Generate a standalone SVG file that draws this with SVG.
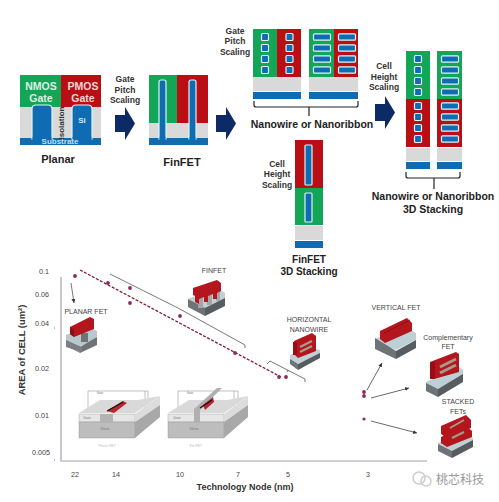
<svg xmlns="http://www.w3.org/2000/svg" width="499" height="502" viewBox="0 0 499 502">
<defs>
<style>
text{font-family:"Liberation Sans",Arial,sans-serif;fill:#222;text-anchor:middle}
.lab{font-size:8.5px;font-weight:700;fill:#333}
.big{font-size:10.5px;font-weight:700;fill:#222}
.gt{font-size:10.5px;font-weight:700;fill:#dfeee6}
.ax{font-size:7.2px;fill:#444}
.dev{font-size:7px;fill:#444}
.g{fill:#13a657}.r{fill:#b90f14}.y{fill:#d9d9d9}.s{fill:#0f6cb3}
.w{fill:#0f6cb3;stroke:#dff3f3;stroke-width:1.2}
.arrow{fill:#0c2a66}
.brace{fill:none;stroke:#222;stroke-width:1.2}
.line{fill:none;stroke:#555;stroke-width:.8}
.axis{fill:none;stroke:#a4a4a4;stroke-width:1.2}
.dot{fill:#8a2a5a}
.tiny{font-size:3px;fill:#777}
.soft{filter:url(#soft)}
</style>
<marker id="ah" markerWidth="6" markerHeight="6" refX="5" refY="2.5" orient="auto"><path d="M0 0L5 2.5L0 5z" fill="#333"/></marker>
<g id="sq"><rect x="-3.5" y="-3.5" width="7" height="7" rx="1" class="w"/></g>
<g id="wr"><rect x="-8.5" y="-3.2" width="17" height="6.4" rx="1" class="w"/></g>
<filter id="soft"><feGaussianBlur stdDeviation=".35"/></filter>
</defs>
<rect width="499" height="502" fill="#fff"/>
<g id="planar">
<rect x="20" y="75" width="41" height="33" class="g"/><rect x="61" y="75" width="40" height="33" class="r"/>
<rect x="20" y="107" width="81" height="31" class="y"/><rect x="20" y="138" width="81" height="7" class="s"/>
<path d="M32 139V109q0-4 4-4h12q4 0 4 4v30z" class="w"/><path d="M72 139V109q0-4 4-4h12q4 0 4 4v30z" class="w"/>
<rect x="32.500" y="137" width="19" height="3" class="s"/><rect x="72.500" y="137" width="19" height="3" class="s"/>
<text x="41" y="90" class="gt">NMOS</text><text x="41" y="102" class="gt">Gate</text>
<text x="83" y="90" class="gt" style="fill:#f3d6d6">PMOS</text><text x="83" y="102" class="gt" style="fill:#f3d6d6">Gate</text>
<text x="82" y="123" style="font-size:8px;font-weight:700;fill:#d8e8f4">Si</text>
<text x="60" y="144" style="font-size:8px;font-weight:700;fill:#bfe0f2">Substrate</text>
<text transform="translate(63.500 123) rotate(-90)" style="font-size:8px;font-weight:700;fill:#333">Isolation</text>
<text x="58" y="163" class="big" style="font-size:11px">Planar</text>
</g>
<g id="scale1"><text x="125" y="82" class="lab">Gate</text><text x="125" y="92.500" class="lab">Pitch</text><text x="125" y="103" class="lab">Scaling</text>
<path d="M115 115H125V107L135 123.500L125 140V132H115z" class="arrow"/></g>
<g id="finfet">
<rect x="149" y="75" width="28" height="48" class="g"/><rect x="177" y="75" width="31" height="48" class="r"/>
<rect x="149" y="123" width="59" height="15" class="y"/><rect x="149" y="138" width="59" height="7" class="s"/>
<path d="M159 139V82q0-2 2-2h3q2 0 2 2v57z" class="w"/><path d="M189 139V82q0-2 2-2h3q2 0 2 2v57z" class="w"/>
<rect x="159.500" y="137" width="6" height="3" class="s"/><rect x="189.500" y="137" width="6" height="3" class="s"/>
<text x="182" y="166" class="big" style="font-size:11px">FinFET</text>
</g>
<g id="scale2"><path d="M216 115H226V107L236 123.500L226 140V132H216z" class="arrow"/>
<text x="235" y="34" class="lab">Gate</text><text x="235" y="44" class="lab">Pitch</text><text x="235" y="55" class="lab">Scaling</text></g>
<g id="nanowire">
<rect x="253" y="29" width="25" height="48" class="g"/><rect x="277" y="29" width="24" height="48" class="r"/>
<rect x="253" y="77" width="48" height="14" class="y"/><rect x="253" y="92" width="48" height="7" class="s"/>
<use href="#sq" x="265" y="37"/><use href="#sq" x="265" y="48"/><use href="#sq" x="265" y="59"/><use href="#sq" x="265" y="70"/>
<use href="#sq" x="289.500" y="37"/><use href="#sq" x="289.500" y="48"/><use href="#sq" x="289.500" y="59"/><use href="#sq" x="289.500" y="70"/>
<rect x="309" y="29" width="25" height="48" class="g"/><rect x="334" y="29" width="24" height="48" class="r"/>
<rect x="309" y="77" width="49" height="14" class="y"/><rect x="309" y="92" width="49" height="7" class="s"/>
<use href="#wr" x="322" y="37"/><use href="#wr" x="322" y="48"/><use href="#wr" x="322" y="59"/><use href="#wr" x="322" y="70"/>
<use href="#wr" x="347" y="37"/><use href="#wr" x="347" y="48"/><use href="#wr" x="347" y="59"/><use href="#wr" x="347" y="70"/>
<path d="M254 101v4q0 2 2 2H356q2 0 2-2v-4M309 107v9" class="brace"/>
<text x="312" y="128" class="big">Nanowire or Nanoribbon</text>
</g>
<g id="scale3"><text x="384" y="69" class="lab">Cell</text><text x="384" y="80" class="lab">Height</text><text x="384" y="90" class="lab">Scaling</text>
<path d="M375 104H385V96L395 112.500L385 129V121H375z" class="arrow"/></g>
<g id="stack3d">
<rect x="406" y="51" width="24" height="48" class="g"/><rect x="406" y="99" width="24" height="48" class="r"/>
<rect x="406" y="148" width="24" height="13" class="y"/><rect x="406" y="162" width="24" height="7" class="s"/>
<use href="#sq" x="418" y="59"/><use href="#sq" x="418" y="70"/><use href="#sq" x="418" y="81"/><use href="#sq" x="418" y="92"/>
<use href="#sq" x="418" y="106"/><use href="#sq" x="418" y="117"/><use href="#sq" x="418" y="128"/><use href="#sq" x="418" y="139"/>
<rect x="437" y="51" width="25" height="48" class="g"/><rect x="437" y="99" width="25" height="48" class="r"/>
<rect x="437" y="148" width="25" height="13" class="y"/><rect x="437" y="162" width="25" height="7" class="s"/>
<use href="#wr" x="450" y="59"/><use href="#wr" x="450" y="70"/><use href="#wr" x="450" y="81"/><use href="#wr" x="450" y="92"/>
<use href="#wr" x="450" y="106"/><use href="#wr" x="450" y="117"/><use href="#wr" x="450" y="128"/><use href="#wr" x="450" y="139"/>
<path d="M406 172v4q0 2 2 2H458q2 0 2-2v-4M434 178v11" class="brace"/>
<text x="433" y="200" class="big">Nanowire or Nanoribbon</text><text x="433" y="213" class="big">3D Stacking</text>
</g>
<g id="finfet3d">
<text x="277" y="167" class="lab">Cell</text><text x="277" y="177" class="lab">Height</text><text x="277" y="188" class="lab">Scaling</text>
<rect x="295" y="140" width="28" height="48" class="r"/><rect x="295" y="188" width="28" height="37" class="g"/>
<rect x="295" y="226" width="28" height="14" class="y"/><rect x="295" y="241" width="28" height="7" class="s"/>
<rect x="305" y="145" width="7" height="40" rx="1" class="w"/><rect x="305" y="193" width="7" height="29" rx="1" class="w"/>
<text x="309" y="263" class="big" style="font-size:10px">FinFET</text><text x="309" y="274.500" class="big" style="font-size:10px">3D Stacking</text>
</g>
<g id="chart">
<path d="M61 277V461H427" class="axis"/>
<path d="M54 328h1M54 460h1" class="line"/>
<text x="44" y="274" class="ax">0.1</text><text x="42" y="297" class="ax">0.06</text><text x="42" y="326" class="ax">0.04</text><text x="42" y="371" class="ax">0.02</text><text x="42" y="418" class="ax">0.01</text><text x="41" y="455" class="ax">0.005</text>
<text x="75" y="477" class="ax">22</text><text x="116" y="477" class="ax">14</text><text x="180" y="477" class="ax">10</text><text x="238" y="477" class="ax">7</text><text x="288" y="477" class="ax">5</text><text x="368" y="477" class="ax">3</text>
<text x="245" y="490" style="font-size:9px;font-weight:700;fill:#333">Technology Node (nm)</text>
<text transform="translate(25 350) rotate(-90)" style="font-size:9.400px;font-weight:700;fill:#333">AREA of CELL (um²)</text>
</g>
<g id="connectors">
<path d="M80 270L281 377" fill="none" stroke="#8a1a3a" stroke-width="1.300" stroke-dasharray="3 1.500"/>
<path d="M110 274L178 308L245 345V348M270 361L267 364M270 361L305 379V382M287 370L288 372" class="line"/>
<path d="M71 283L74 303" class="line" marker-end="url(#ah)"/>
<path d="M367 390L382 363" class="line" marker-end="url(#ah)" style="stroke:#444"/>
<path d="M371 398L409 388" class="line" marker-end="url(#ah)" style="stroke:#444"/>
<path d="M371 421L417 433" class="line" marker-end="url(#ah)" style="stroke:#444"/>
<g class="dot"><circle cx="75" cy="276" r="1.900"/><circle cx="108" cy="283" r="1.900"/><circle cx="130" cy="288" r="1.900"/><circle cx="130" cy="303" r="1.900"/><circle cx="180" cy="316" r="1.900"/><circle cx="235" cy="353" r="1.900"/><circle cx="279" cy="377" r="1.900"/><circle cx="286" cy="377" r="1.900"/><circle cx="364" cy="392" r="1.900"/><circle cx="364" cy="396" r="1.900"/><circle cx="364" cy="419" r="1.600"/></g>
</g>
<g id="planar-fet">
<text x="86" y="314" class="dev">PLANAR FET</text>
<g class="soft">
<path d="M66 335L88 327L97 331V341L80 346L66 340z" fill="#b7c8cf"/>
<path d="M66 340L80 347V353L66 346z" fill="#8a8f92"/><path d="M80 347L97 337V345L80 353z" fill="#6d7376"/>
<path d="M66 340V347L82 352V347z" fill="#7b7f82"/>
<rect x="81" y="333" width="7" height="9" fill="#6f7375"/>
<path d="M70 327L90 317L94 319V329L74 337L70 334z" fill="#b3141c"/><path d="M70 327L74 330V337L70 334z" fill="#8d0f15"/>
</g></g>
<g id="finfet-device">
<text x="214" y="273" class="dev">FINFET</text>
<g class="soft">
<path d="M188 299L216 287L225 293V302L204 310z" fill="#bfd0d6"/>
<path d="M188 299L205 308V316L188 307z" fill="#6d7376"/><path d="M205 308L225 298V306L205 316z" fill="#565b5e"/>
<rect x="198" y="296" width="5" height="12" fill="#a6a6a6"/><rect x="207" y="293" width="5" height="12" fill="#a6a6a6"/><rect x="216" y="290" width="4" height="11" fill="#a6a6a6"/>
<path d="M193 288L217 280L221 283V291L217 293V299L213 299V294L208 296V302L204 302V297L199 299V304L195 302V296L193 295z" fill="#b3141c"/>
</g></g>
<g id="nanowire-device">
<text x="309" y="322" class="dev">HORIZONTAL</text><text x="309" y="332" class="dev">NANOWIRE</text>
<g class="soft">
<path d="M290 355L310 347L320 350V354L297 364L290 360z" fill="#bfd0d6"/>
<path d="M290 359L298 364V370L290 364z" fill="#6d7376"/><path d="M298 364L320 353V358L298 370z" fill="#565b5e"/>
<path d="M294 341L312 333L316 336V351L298 358L294 354z" fill="#b3141c"/>
<path d="M300 347L312 341M300 352L312 346" stroke="#a89a8a" stroke-width="2.500"/>
<path d="M293 342L297 342V355L293 355z" fill="#9a1015"/>
</g></g>
<g id="vertical-fet">
<text x="396" y="310" class="dev">VERTICAL FET</text>
<g class="soft">
<path d="M375 339L405 327L416 333V340L396 350L375 342z" fill="#bdd0d6"/>
<path d="M375 338L396 351V359L375 349z" fill="#6d7376"/><path d="M396 351L416 340V348L396 359z" fill="#565b5e"/>
<path d="M380 331L407 318L412 323V331L385 343L380 339z" fill="#b3141c"/>
<path d="M384 333L410 320" stroke="#8b1016" stroke-width=".8"/>
</g></g>
<g id="complementary-fet">
<text x="448" y="340" class="dev">Complementary</text><text x="448" y="349" class="dev">FET</text>
<g class="soft">
<path d="M426 382L459 367L463 370V375L438 389L426 384z" fill="#bdd0d6"/>
<path d="M426 383L438 389V397L426 391z" fill="#6d7376"/><path d="M438 389L463 374V382L438 397z" fill="#565b5e"/>
<path d="M430 362L456 352L459 354V372L434 379L430 374z" fill="#b3141c"/>
<path d="M440 367L456 359M440 373L456 365" stroke="#a89a8a" stroke-width="3"/>
<path d="M430 362L435 362V379L430 379z" fill="#9a1015"/>
</g></g>
<g id="stacked-fets">
<text x="458" y="404" class="dev">STACKED</text><text x="458" y="414" class="dev">FETs</text>
<g class="soft">
<path d="M438 443L462 434L473 438V442L452 452L438 446z" fill="#bdd0d6"/>
<path d="M438 444L452 451V458L438 451z" fill="#6d7376"/><path d="M452 451L473 440V447L452 458z" fill="#565b5e"/>
<path d="M441 426L466 415L471 420V428L447 438L441 434z" fill="#b3141c"/><path d="M441 437L466 426L472 431V437L447 447L441 443z" fill="#b3141c"/>
<path d="M450 428L464 420M452 438L464 432" stroke="#a89a8a" stroke-width="2"/>
</g></g>
<g id="planar-inset">
<path d="M88 412V391H148V405M145 391V408" fill="none" stroke="#999" stroke-width=".6"/>
<path d="M79 413L100 400H138L160 396L135 413z" fill="#d9d9d9"/>
<path d="M79 414H135V422H79z" fill="#e6e6e6" stroke="#999" stroke-width=".4"/>
<path d="M79 422H135V438H79z" fill="#bdbdbd" stroke="#888" stroke-width=".4"/>
<path d="M135 414L160 396V405L135 422z" fill="#dcdcdc"/><path d="M135 422L160 405V417L135 438z" fill="#a8a8a8"/>
<rect x="100" y="414" width="13" height="9" fill="#b3b3b3"/>
<path d="M107 411L123 401L127 403L114 413z" fill="#c0232b"/><path d="M107 411L123 402" stroke="#111" stroke-width="1.300"/>
<text x="100" y="394" class="tiny">Gate</text><text x="87" y="419" class="tiny">Drain</text><text x="105" y="430" class="tiny">Silicon</text><text x="107" y="447" class="tiny" style="fill:#bbb;font-size:3.500px">Planar FET</text>
</g>
<g id="finfet-inset">
<path d="M178 412V391H238V405M234 391V408" fill="none" stroke="#999" stroke-width=".6"/>
<path d="M168 413L189 400H227L248 396L224 413z" fill="#d9d9d9"/>
<path d="M168 414H224V422H168z" fill="#e6e6e6" stroke="#999" stroke-width=".4"/>
<path d="M168 422H224V438H168z" fill="#bdbdbd" stroke="#888" stroke-width=".4"/>
<path d="M224 414L248 396V405L224 422z" fill="#dcdcdc"/><path d="M224 422L248 405V417L224 438z" fill="#a8a8a8"/>
<path d="M194 409L217 388H222L200 410V422H194z" fill="#b0b0b0"/>
<path d="M203 405L213 397L214 402L205 410z" fill="#c0232b"/><path d="M200 408L212 400" stroke="#111" stroke-width="1.300"/>
<text x="190" y="394" class="tiny">Gate</text><text x="177" y="419" class="tiny">Drain</text><text x="194" y="430" class="tiny">Silicon</text><text x="196" y="447" class="tiny" style="fill:#bbb;font-size:3.500px">Fin FET</text>
</g>
<g id="watermark">
<circle cx="419" cy="478" r="6" fill="none" stroke="#ccc" stroke-width="1.500"/><circle cx="426" cy="481" r="5" fill="none" stroke="#ccc" stroke-width="1.500"/>
<text x="460" y="484" style="font-family:'Noto Sans CJK SC',sans-serif;font-size:12px;fill:#999">桃芯科技</text>
</g>
</svg>
